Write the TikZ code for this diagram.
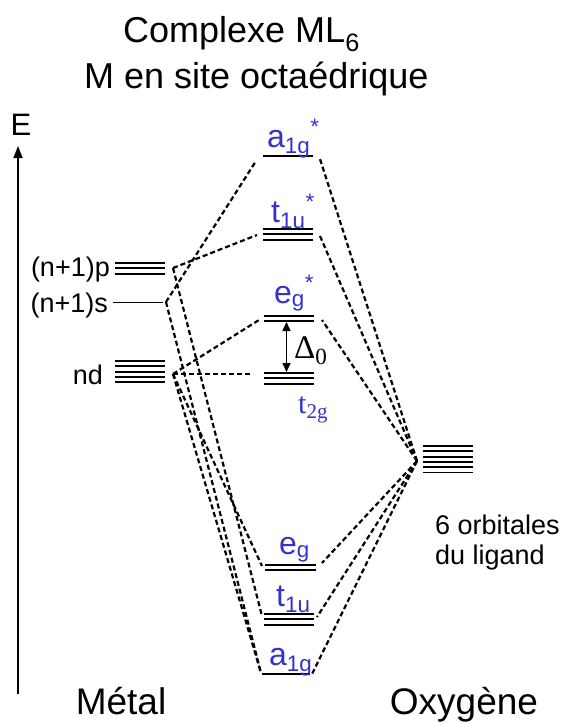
\documentclass[tikz,border=0pt]{standalone}
\usepackage{fontspec}
\setmainfont{Liberation Sans}
\newfontfamily\serif{Liberation Serif}
\usetikzlibrary{arrows.meta}
\definecolor{myblue}{RGB}{51, 51, 204}
\definecolor{mydark}{RGB}{0, 0, 0}
\def\fs#1{\fontsize{#1}{#1}\selectfont}
\newcommand{\etoile}{\textsuperscript{\raisebox{3pt}{*}}}
% niveau d'energie : x gauche, y haut, nombre de lignes, longueur
\def\niveau#1#2#3#4{
    \foreach \k in {1,...,#3}
        \draw[mydark, line width=1.8pt] ({#1}, {#2+(\k-1)*5.3}) -- ++(#4, 0);
}
\tikzset{
    lien/.style={mydark, dashed, line width=2.2pt, dash pattern=on 5pt off 3pt},
    orb/.style={text=myblue, font=\fs{32}, inner sep=0pt, anchor=base west},
    lab/.style={font=\fs{27}, inner sep=0pt, anchor=base east}
}

\begin{document}
\begin{tikzpicture}[x=1pt, y=-1pt]
    \useasboundingbox (0, 0) rectangle (565, 724);

    % ----------------------------------------------------
    % Titre et axe des energies
    % ----------------------------------------------------
    \node[font=\fs{36}, inner sep=0pt, anchor=base west] (titre1) at (123, 42) {Complexe ML\textsubscript{6}};
    \node[font=\fs{36}, inner sep=0pt, anchor=base west] (titre2) at (84, 88) {M en site octaédrique};
    \node[font=\fs{31}, inner sep=0pt, anchor=base] (E) at (21, 135) {E};
    \coordinate (axebas) at (18, 694);
    \coordinate (axehaut) at (18, 146);
    \draw[-{Triangle[length=12pt, width=9pt]}, line width=1.6pt, mydark] (axebas) -- (axehaut);

    % ----------------------------------------------------
    % Metal
    % ----------------------------------------------------
    \niveau{115}{263}{3}{50}
    \niveau{113}{302.5}{1}{50}
    \niveau{115}{361}{5}{50}
    \node[lab] (np) at (110, 276) {(n+1)p};
    \node[lab] (ns) at (108, 312) {(n+1)s};
    \node[lab] (nd) at (103, 384) {nd};
    \coordinate (P) at (173, 268);
    \coordinate (S) at (166, 302);
    \coordinate (D) at (173, 374);

    % ----------------------------------------------------
    % Complexe : orbitales moleculaires
    % ----------------------------------------------------
    \niveau{263}{156}{1}{50}  % a1g*
    \niveau{263}{229}{3}{50}  % t1u*
    \niveau{264}{316}{2}{50}  % eg*
    \niveau{264}{373}{3}{50}  % t2g
    \niveau{265}{565}{2}{51}  % eg
    \niveau{264}{614}{3}{50}  % t1u
    \niveau{262}{674}{1}{48}  % a1g

    \node[orb] (a1gs) at (267, 147) {a\textsubscript{1g}\etoile};
    \node[orb] (t1us) at (271, 222) {t\textsubscript{1u}\etoile};
    \node[orb] (egs) at (274, 303) {e\textsubscript{g}\etoile};
    \node[orb, font=\serif\fs{30}] (t2g) at (298, 413) {t\textsubscript{2g}};
    \node[orb] (eg) at (279, 554) {e\textsubscript{g}};
    \node[orb] (t1u) at (276, 606) {t\textsubscript{1u}};
    \node[orb] (a1g) at (269, 665) {a\textsubscript{1g}};

    % ecart Delta_0
    \coordinate (dhaut) at (286.5, 322);
    \coordinate (dbas) at (286.5, 372);
    \draw[{Triangle[length=9pt, width=8pt]}-{Triangle[length=9pt, width=8pt]}, line width=1.6pt, mydark] (dhaut) -- (dbas);
    \node[font=\serif\fs{33}, inner sep=0pt, anchor=base west] (delta) at (294, 358) {Δ\textsubscript{0}};

    % extremites des niveaux
    \coordinate (a1gsL) at (256, 161);  \coordinate (a1gsR) at (320, 159);
    \coordinate (t1usL) at (257, 235);  \coordinate (t1usR) at (320, 236);
    \coordinate (egsL) at (259, 320);   \coordinate (egsR) at (322, 320);
    \coordinate (t2gL) at (253, 374);
    \coordinate (egL) at (262, 566);    \coordinate (egR) at (322, 563);
    \coordinate (t1uL) at (262, 616);   \coordinate (t1uR) at (317, 617);
    \coordinate (a1gL) at (261, 673);   \coordinate (a1gR) at (312, 674);

    % ----------------------------------------------------
    % Ligands
    % ----------------------------------------------------
    \niveau{423}{446}{6}{50}
    \coordinate (L) at (417, 461);
    \node[font=\fs{27}, inner sep=0pt, anchor=base west] (lig) at (435, 534) {6 orbitales};
    \node[font=\fs{27}, inner sep=0pt, anchor=base west] (lig2) at (435, 564) {du ligand};

    % ----------------------------------------------------
    % Correlations
    % ----------------------------------------------------
    \draw[lien] (S) -- (a1gsL);
    \draw[lien] (P) -- (t1usL);
    \draw[lien] (D) -- (egsL);
    \draw[lien] (D) -- (t2gL);
    \draw[lien] (D) -- (egL);
    \draw[lien] (P) -- (t1uL);
    \draw[lien] (S) -- (a1gL);
    \draw[lien] (D) -- (a1gL);
    \foreach \o in {a1gsR, t1usR, egsR, egR, t1uR, a1gR}
        \draw[lien] (L) -- (\o);

    % ----------------------------------------------------
    % Legendes du bas
    % ----------------------------------------------------
    \node[font=\fs{37}, inner sep=0pt, anchor=base] (metal) at (121, 714) {Métal};
    \node[font=\fs{37}, inner sep=0pt, anchor=base] (oxy) at (464, 714) {Oxygène};
\end{tikzpicture}
\end{document}
